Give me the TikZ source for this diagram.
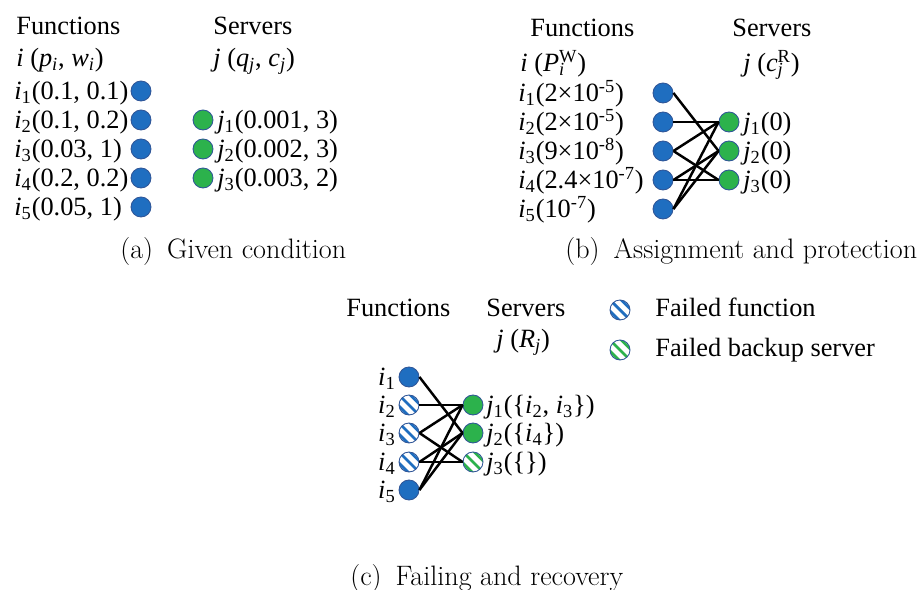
\documentclass[tikz,border=0pt]{standalone}
\usepackage{fontspec}
\newfontfamily\tnr{Liberation Serif}
\usetikzlibrary{calc}
\definecolor{fnblue}{RGB}{31,110,192}
\definecolor{svgreen}{RGB}{44,178,76}
\definecolor{rimblue}{RGB}{47,85,151}
\newcommand{\ix}[1]{\textit{i}\textsubscript{#1}}
\newcommand{\jx}[1]{\textit{j}\textsubscript{#1}}
\newcommand{\tenp}[1]{10\textsuperscript{#1}}

\begin{document}
\begin{tikzpicture}[x=0.02cm, y=-0.02cm,
    fn/.style={circle, draw=rimblue, fill=fnblue, line width=0.5pt, minimum size=0.4cm, inner sep=0pt},
    sv/.style={fn, fill=svgreen},
    stripes/.style={path picture={
        \foreach \k in {-1,0,1}
            \draw[line width=1.6pt, #1] ([shift={(\k*3.2pt-7pt,\k*3.2pt+7pt)}]path picture bounding box.center) -- ++(14pt,-14pt);}},
    fnfail/.style={fn, fill=white, stripes=fnblue},
    svfail/.style={fn, fill=white, stripes=svgreen},
    txt/.style={font=\tnr\fontsize{15}{18}\selectfont, inner sep=0pt, anchor=base west},
    capt/.style={font=\fontsize{16}{19}\selectfont, inner sep=0pt, anchor=base west},
    link/.style={line width=1.4pt}]

    \useasboundingbox (0,0) rectangle (923,590);

    % (a) given condition
    \node[txt] (aft) at (16,35) {Functions};
    \node[txt] (ast) at (213,35) {Servers};
    \node[txt] (afh) at (16,67) {\textit{i} (\textit{p}\textsubscript{\textit{i}}, \textit{w}\textsubscript{\textit{i}})};
    \node[txt] (ash) at (213,67) {\textit{j} (\textit{q}\textsubscript{\textit{j}}, \textit{c}\textsubscript{\textit{j}})};
    \foreach \n/\y/\t in {1/91/{(0.1, 0.1)}, 2/120/{(0.1, 0.2)}, 3/149/{(0.03, 1)}, 4/178/{(0.2, 0.2)}, 5/207/{(0.05, 1)}}{
        \node[fn] (ai\n) at (141,\y) {};
        \node[txt] (ail\n) at (14,\y+9) {\ix{\n}\t};
    }
    \foreach \n/\y/\t in {1/120/{(0.001, 3)}, 2/149/{(0.002, 3)}, 3/178/{(0.003, 2)}}{
        \node[sv] (as\n) at (203,\y) {};
        \node[txt] (asl\n) at (217,\y+9) {\jx{\n}\t};
    }
    \node[capt] (acap) at (120,259) {(a)\enspace Given condition};

    % (b) assignment and protection
    \node[txt] (bft) at (530,37) {Functions};
    \node[txt] (bst) at (732,37) {Servers};
    \node[txt] (bfh) at (520,72) {\textit{i} (\textit{P}\rlap{\textsubscript{\textit{i}}}\textsuperscript{W})};
    \node[txt] (bsh) at (743,72) {\textit{j} (\textit{c}\rlap{\textsubscript{\textit{j}}}\textsuperscript{R})};
    \foreach \n/\y/\t in {1/93/{(2×\tenp{-5})}, 2/122/{(2×\tenp{-5})}, 3/151/{(9×\tenp{-8})}, 4/180/{(2.4×\tenp{-7})}, 5/209/{(\tenp{-7})}}{
        \node[fn] (bi\n) at (663,\y) {};
        \node[txt] (bil\n) at (518,\y+9) {\ix{\n}\t};
    }
    \foreach \n/\y in {1/122, 2/151, 3/180}{
        \node[sv] (bs\n) at (729,\y) {};
        \node[txt] (bsl\n) at (743,\y+9) {\jx{\n}(0)};
    }
    \foreach \a/\b in {1/2, 2/1, 3/1, 3/3, 4/2, 4/3, 5/1, 5/2}
        \draw[link] (bi\a.east) -- (bs\b.west);
    \node[capt] (bcap) at (565,259) {(b)\enspace Assignment and protection};

    % (c) failing and recovery
    \node[txt] (cft) at (346,317) {Functions};
    \node[txt] (cst) at (486,317) {Servers};
    \node[txt] (csh) at (496,348) {\textit{j} (\textit{R}\textsubscript{\textit{j}})};
    \node[fnfail] (lgf) at (620,310) {};
    \node[txt] (lgft) at (655,317) {Failed function};
    \node[svfail] (lgs) at (620,350) {};
    \node[txt] (lgst) at (655,357) {Failed backup server};
    \foreach \n/\y/\s in {1/377/fn, 2/405/fnfail, 3/433/fnfail, 4/462/fnfail, 5/490/fn}{
        \node[\s] (ci\n) at (409,\y) {};
        \node[txt, anchor=base east] (cil\n) at (396,\y+9) {\ix{\n}};
    }
    \foreach \n/\y/\s/\t in {1/405/sv/{(\{\ix{2}, \ix{3}\})}, 2/433/sv/{(\{\ix{4}\})}, 3/462/svfail/{(\{\})}}{
        \node[\s] (cs\n) at (473,\y) {};
        \node[txt] (csl\n) at (486,\y+9) {\jx{\n}\t};
    }
    \foreach \a/\b in {1/2, 2/1, 3/1, 3/3, 4/2, 4/3, 5/1, 5/2}
        \draw[link] (ci\a.east) -- (cs\b.west);
    \node[capt] (ccap) at (350,586) {(c)\enspace Failing and recovery};
\end{tikzpicture}
\end{document}
